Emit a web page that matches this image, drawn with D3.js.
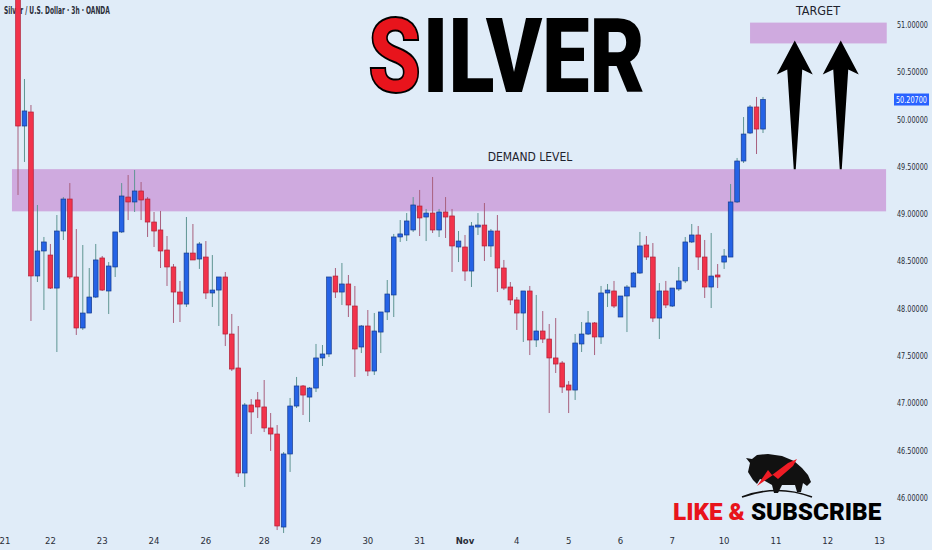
<!DOCTYPE html>
<html>
<head>
<meta charset="utf-8">
<script src="https://cdn.jsdelivr.net/npm/d3@7/dist/d3.min.js"></script>
<style>
  html, body { margin: 0; padding: 0; background: #e0ecf8; }
  svg { display: block; }
</style>
</head>
<body>
<svg id="chart" width="932" height="550"></svg>
<script>
// ---------------- DATA ----------------
const headerText = "Silver / U.S. Dollar · 3h · OANDA";
const titleText = ["S", "ILVER"];
const opens = [
  51.576, 49.927, 50.075, 48.342, 48.606, 48.563, 48.214, 48.817, 49.155, 48.331,
  47.792, 47.950, 48.119, 48.532, 48.183, 48.437, 48.807, 49.176, 49.124, 49.240,
  49.155, 48.912, 48.828, 48.616, 48.437, 48.172, 48.045, 48.584, 48.521, 48.542,
  48.162, 48.193, 48.331, 47.728, 47.369, 46.259, 46.978, 47.031, 46.957, 46.735,
  46.671, 45.688, 46.460, 46.967, 47.179, 47.062, 47.157, 47.475, 47.517, 48.341,
  48.172, 48.257, 48.024, 47.591, 47.813, 47.337, 47.749, 47.961, 48.141, 48.754,
  48.775, 48.828, 49.081, 48.965, 49.007, 48.828, 49.018, 48.976, 48.648, 48.648,
  48.394, 48.859, 48.880, 48.659, 48.817, 48.426, 48.225, 48.088, 47.950, 48.183,
  47.665, 47.760, 47.675, 47.475, 47.422, 47.189, 47.136, 47.623, 47.728, 47.845,
  47.697, 48.162, 48.183, 47.908, 48.130, 48.225, 48.373, 48.669, 48.542, 47.897,
  48.183, 48.024, 48.204, 48.289, 48.701, 48.775, 48.542, 48.225, 48.352, 48.489,
  48.542, 49.124, 49.557, 49.853, 50.128, 49.895
];
const highs = [
  51.735, 50.424, 50.149, 49.092, 48.754, 48.680, 48.986, 49.176, 49.324, 48.838,
  48.669, 48.426, 48.680, 48.553, 48.489, 48.807, 49.324, 49.409, 49.462, 49.335,
  49.176, 49.018, 49.029, 48.764, 48.468, 48.289, 48.965, 48.891, 48.701, 48.711,
  48.563, 48.331, 48.384, 47.940, 47.813, 46.999, 47.041, 47.115, 47.242, 46.893,
  46.766, 46.481, 47.052, 47.274, 47.189, 47.168, 47.623, 47.612, 48.331, 48.426,
  48.479, 48.352, 48.236, 47.823, 47.982, 47.950, 47.961, 48.299, 48.786, 48.933,
  49.007, 49.176, 49.251, 49.050, 49.388, 49.050, 49.176, 49.050, 48.817, 48.775,
  48.912, 49.007, 49.113, 48.838, 48.986, 48.511, 48.278, 48.119, 48.183, 48.236,
  48.141, 47.971, 47.834, 47.897, 47.443, 47.231, 47.728, 47.855, 47.971, 47.855,
  48.236, 48.257, 48.289, 48.130, 48.246, 48.384, 48.807, 48.764, 48.690, 48.267,
  48.289, 48.214, 48.437, 48.754, 48.891, 48.870, 48.722, 48.796, 48.468, 48.627,
  49.314, 49.589, 50.022, 50.149, 50.234, 50.234
];
const lows = [
  49.198, 49.547, 47.866, 48.278, 47.982, 48.204, 47.538, 48.722, 48.310, 47.718,
  47.771, 47.950, 48.109, 48.183, 47.940, 48.331, 48.796, 48.933, 49.018, 48.933,
  48.754, 48.648, 48.426, 48.236, 47.845, 47.855, 48.014, 48.511, 48.416, 48.098,
  48.014, 47.813, 47.601, 47.337, 46.217, 46.111, 46.671, 46.840, 46.692, 46.492,
  45.656, 45.625, 46.270, 46.946, 46.872, 46.798, 47.115, 47.390, 47.485, 48.109,
  48.035, 47.908, 47.274, 47.527, 47.284, 47.295, 47.527, 47.876, 47.908, 48.701,
  48.711, 48.807, 48.764, 48.711, 48.796, 48.754, 48.743, 48.384, 48.489, 48.289,
  48.225, 48.775, 48.500, 48.542, 48.172, 48.193, 48.035, 47.771, 47.644, 47.506,
  47.591, 47.633, 46.893, 47.316, 47.105, 46.893, 47.031, 47.538, 47.718, 47.506,
  47.623, 48.014, 48.003, 47.908, 47.749, 48.225, 48.363, 48.511, 47.855, 47.675,
  48.003, 48.014, 48.183, 48.267, 48.690, 48.405, 48.109, 48.003, 48.214, 48.416,
  48.542, 49.113, 49.536, 49.842, 49.631, 49.853
];
const closes = [
  49.927, 50.086, 48.342, 48.606, 48.701, 48.214, 48.817, 49.155, 48.331, 47.792,
  47.950, 48.119, 48.511, 48.193, 48.447, 48.807, 49.187, 49.124, 49.240, 49.145,
  48.912, 48.817, 48.606, 48.437, 48.172, 48.045, 48.584, 48.511, 48.680, 48.162,
  48.193, 48.331, 47.728, 47.358, 46.259, 46.978, 46.904, 46.957, 46.735, 46.671,
  45.699, 46.460, 46.967, 47.179, 47.083, 47.157, 47.475, 47.517, 48.331, 48.172,
  48.257, 48.035, 47.570, 47.813, 47.337, 47.760, 47.961, 48.151, 48.754, 48.786,
  48.923, 49.092, 48.955, 49.007, 48.828, 49.018, 48.965, 48.659, 48.711, 48.394,
  48.870, 48.880, 48.659, 48.817, 48.426, 48.214, 48.088, 47.950, 48.183, 47.665,
  47.760, 47.675, 47.475, 47.411, 47.168, 47.136, 47.633, 47.728, 47.845, 47.697,
  48.162, 48.193, 48.024, 48.130, 48.225, 48.373, 48.659, 48.542, 47.897, 48.183,
  48.035, 48.214, 48.289, 48.701, 48.775, 48.542, 48.225, 48.341, 48.331, 48.553,
  49.124, 49.557, 49.842, 50.128, 49.895, 50.207
];
// x-axis day labels, at candle index positions
const dayLabels = ["21","22","23","24","26","28","29","30","31","Nov","4","5","6","7","10","11","12","13"];
const dayIndex  = [-3, 5, 13, 21, 29, 38, 46, 54, 62, 69, 77, 85, 93, 101, 109, 117, 125, 133];
// price axis ticks
const priceTicks = [46, 46.5, 47, 47.5, 48, 48.5, 49, 49.5, 50, 50.5, 51];
const lastPrice = 50.207;
// zones
const zoneNames = ["DEMAND LEVEL", "TARGET"];
const zoneStart = [-0.93, 113.0];
const zoneEnd   = [134.0, 134.1];
const zoneLow   = [49.025, 50.80];
const zoneHigh  = [49.471, 51.02];
// target arrows: candle index, tip price, base price
const arrowIndex = [119.9, 127.0];
const arrowTip   = [50.83, 50.83];
const arrowBase  = [49.47, 49.47];

// ---------------- CHART ----------------
const svg = d3.select("#chart");
const W = 932, H = 550;
const x = d3.scaleLinear().domain([0, 115]).range([18, 763]);
const y = d3.scaleLinear().domain([46, 51]).range([497.5, 24.5]);
const step = x(1) - x(0);
const bodyW = step * 0.72;
const narrow = "'Liberation Sans Narrow', 'DejaVu Sans Condensed', 'Roboto Condensed', sans-serif";

// horizontally squeeze each text (anchor start) so its width is at most maxW
function squeezeText(sel, maxW) {
  sel.each(function () {
    const t = d3.select(this);
    const w = this.getComputedTextLength();
    if (w > maxW) {
      const x0 = +t.attr("x"), sx = maxW / w;
      t.attr("transform", `translate(${x0},0) scale(${sx},1) translate(${-x0},0)`);
    }
  });
  return sel;
}
// horizontally squeeze a group to span targetW starting at x0
function squeezeGroup(g, x0, targetW) {
  const bb = g.node().getBBox();
  const sx = targetW / bb.width;
  g.attr("transform", `translate(${x0 - bb.x * sx},0) scale(${sx},1)`);
}

svg.append("rect").attr("width", W).attr("height", H).attr("fill", "#e0ecf8");

// zones
const zones = zoneNames.map((n, i) => ({n, s: zoneStart[i], e: zoneEnd[i], lo: zoneLow[i], hi: zoneHigh[i]}));
svg.append("g").selectAll("rect").data(zones).join("rect")
  .attr("x", d => x(d.s)).attr("width", d => x(d.e) - x(d.s))
  .attr("y", d => y(d.hi)).attr("height", d => y(d.lo) - y(d.hi))
  .attr("fill", "#cfaadf");

// header text
const hdr = svg.append("text").attr("x", 4).attr("y", 14)
  .attr("font-family", narrow).attr("font-size", 10).attr("font-weight", "bold")
  .attr("fill", "#2a2e39").text(headerText);
squeezeText(hdr, 106);

// candles
const candles = opens.map((o, i) => ({i, o, h: highs[i], l: lows[i], c: closes[i], up: closes[i] >= opens[i]}));
const cg = svg.append("g");
cg.selectAll("line").data(candles).join("line")
  .attr("x1", d => x(d.i)).attr("x2", d => x(d.i))
  .attr("y1", d => y(d.h)).attr("y2", d => y(d.l))
  .attr("stroke", d => d.up ? "#5f9593" : "#a8607e").attr("stroke-width", 1);
cg.selectAll("rect").data(candles).join("rect")
  .attr("x", d => x(d.i) - bodyW / 2).attr("width", bodyW)
  .attr("y", d => y(Math.max(d.o, d.c)))
  .attr("height", d => Math.max(1.2, Math.abs(y(d.o) - y(d.c))))
  .attr("fill", d => d.up ? "#2563e6" : "#f2334b")
  .attr("stroke", d => d.up ? "#143a8c" : "#b01e36").attr("stroke-width", 0.7);

// zone labels
svg.append("text").attr("x", 530).attr("y", 161).attr("text-anchor", "middle")
  .attr("font-family", narrow).attr("font-size", 12).attr("fill", "#1e222d")
  .text(zoneNames[0]);
svg.append("text").attr("x", 818).attr("y", 15).attr("text-anchor", "middle")
  .attr("font-family", narrow).attr("font-size", 12.5).attr("fill", "#1e222d")
  .text(zoneNames[1]);

// arrows
const arrows = arrowIndex.map((a, i) => ({cx: x(a), ty: y(arrowTip[i]), by: y(arrowBase[i])}));
svg.append("g").selectAll("path").data(arrows).join("path")
  .attr("d", d => {
    const pts = [[d.cx, d.ty], [d.cx + 18, d.ty + 34], [d.cx + 7.5, d.ty + 29], [d.cx + 1, d.by],
                 [d.cx - 1, d.by], [d.cx - 7.5, d.ty + 29], [d.cx - 18, d.ty + 34]];
    return d3.line()(pts) + "Z";
  })
  .attr("fill", "#000");

// title: two texts in one group, squeezed horizontally
const tg = svg.append("g");
const tFont = "Roboto, 'DejaVu Sans', sans-serif";
const tS = tg.append("text").attr("x", 0).attr("y", 92)
  .attr("font-family", tFont).attr("font-weight", 900).attr("font-size", 104)
  .attr("fill", "#e8141c").attr("stroke", "#000").attr("stroke-width", 2).text(titleText[0]);
const sW = tS.node().getComputedTextLength();
tg.append("text").attr("x", sW + 2).attr("y", 92)
  .attr("font-family", tFont).attr("font-weight", 900).attr("font-size", 104)
  .attr("fill", "#000").text(titleText[1]);
squeezeGroup(tg, 368, 277);

// y axis labels
const yl = svg.append("g").selectAll("text").data(priceTicks).join("text")
  .attr("x", 897).attr("y", d => y(d) + 3.5)
  .attr("font-family", narrow).attr("font-size", 9.5).attr("fill", "#2a2e39")
  .text(d => d.toFixed(5));
squeezeText(yl, 31);

// last price label
const ly = y(lastPrice);
svg.append("rect").attr("x", 894).attr("y", ly - 6).attr("width", 35).attr("height", 12).attr("fill", "#2962ff");
const lpt = svg.append("text").attr("x", 896).attr("y", ly + 3.5)
  .attr("font-family", narrow).attr("font-size", 9.5).attr("fill", "#fff")
  .text(lastPrice.toFixed(5));
squeezeText(lpt, 31);

// x axis labels
svg.append("g").selectAll("text").data(dayLabels).join("text")
  .attr("x", (d, i) => Math.max(x(dayIndex[i]), 5)).attr("y", 544).attr("text-anchor", "middle")
  .attr("font-family", narrow).attr("font-size", 9.5)
  .attr("font-weight", d => d === "Nov" ? "bold" : "normal")
  .attr("fill", "#2a2e39").text(d => d);

// logo (bull silhouette with red swoosh)
const logo = svg.append("g");
logo.append("path").attr("fill", "#111")
  .attr("d", "M748,472 L750,463 L746,458 L752,459 L757,455 L768,454 L782,456 L794,461 L802,468 L808,475 L811,482 L807,486 L803,483 L801,492 L797,492 L795,485 L782,485 L778,493 L774,493 L772,485 L765,481 L760,479 L757,484 L753,480 Z");
logo.append("path").attr("fill", "#ee1c25")
  .attr("d", "M757,486 L768,470 L772,475 L788,463 L797,459 L793,466 L778,479 L773,475 Z");
logo.append("path").attr("fill", "none").attr("stroke", "#111").attr("stroke-width", 1.6)
  .attr("d", "M742,497 Q777,484 812,497");

// LIKE & SUBSCRIBE
const lg = svg.append("g");
const ls = lg.append("text").attr("x", 0).attr("y", 520)
  .attr("font-family", tFont).attr("font-weight", 900).attr("font-size", 24);
ls.append("tspan").attr("fill", "#e8141c").text("LIKE & ");
ls.append("tspan").attr("fill", "#000").text("SUBSCRIBE");
squeezeGroup(lg, 673, 209);
</script>
</body>
</html>
